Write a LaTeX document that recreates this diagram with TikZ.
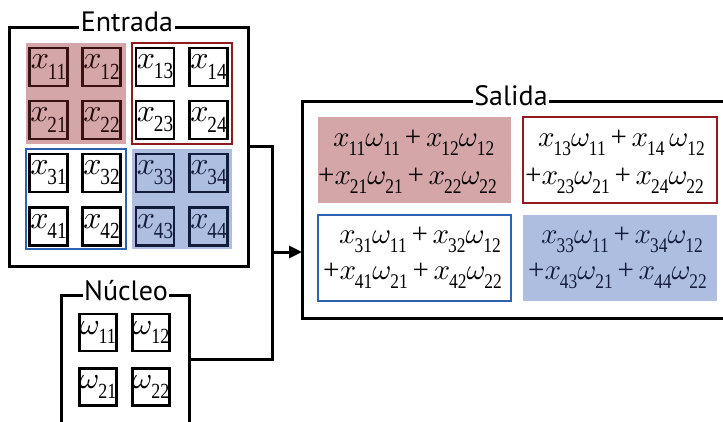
\documentclass[tikz,border=0pt]{standalone}
\usepackage{fontspec}
\setmainfont{Liberation Serif}
\newfontfamily\titlefont{PT Sans}
\usetikzlibrary{arrows.meta}
\definecolor{redfill}{HTML}{D4A6A8}
\definecolor{bluefill}{HTML}{AEBEE0}
\definecolor{redline}{HTML}{8E1B1E}
\definecolor{blueline}{HTML}{2D62B0}
\definecolor{darkred}{HTML}{3A1212}
\definecolor{darkblue}{HTML}{141C3C}
\def\msc{3.2}
\newcommand{\mglyph}[1]{\scalebox{\msc}{\fontsize{10}{12}\selectfont$#1$}}
\newcommand{\subnum}[1]{\kern-0.04em\raisebox{-0.32em}{\scalebox{0.6}[0.72]{#1}}}
\newcommand{\vx}[1]{\mglyph{x}\subnum{#1}}
\newcommand{\vw}[1]{\mglyph{\omega}\subnum{#1}}
\newcommand{\pl}{\,+\,}
\tikzset{
  bigbox/.style={draw, line width=3pt, inner sep=0, outer sep=0},
  boxtitle/.style={fill=white, inner sep=1.5pt, font=\titlefont\fontsize{28}{30}\selectfont},
  cell/.style={draw, line width=2.5pt, minimum size=38pt, inner sep=0, font=\fontsize{32}{34}\selectfont\def\msc{3.2}},
  wcell/.style={cell, minimum size=37pt, font=\fontsize{30}{32}\selectfont\def\msc{3.0}},
  quad/.style={inner sep=0, outer sep=0, minimum width=#1},
  sumtext/.style={anchor=west, inner sep=0, font=\fontsize{29}{31}\selectfont\def\msc{2.9}},
  conn/.style={line width=3pt},
}
\begin{document}
\begin{tikzpicture}[x=1pt, y=-1pt]
\useasboundingbox (0,0) rectangle (723,421);
% Entrada
\node[bigbox, minimum width=239pt, minimum height=239pt] (entrada) at (128.5,146.5) {};
\node[boxtitle] (tentrada) at (127,22) {Entrada};
\node[quad=100pt, minimum height=101pt, fill=redfill] (qa) at (76,93.5) {};
\node[quad=100pt, minimum height=101pt, draw=redline, line width=2pt] (qb) at (182,93.5) {};
\node[quad=100pt, minimum height=100pt, draw=blueline, line width=2pt] (qc) at (76,199) {};
\node[quad=100pt, minimum height=100pt, fill=bluefill] (qd) at (182,199) {};
\node[cell, draw=darkred, text=darkred!60!black] (x11) at (48.5,67) {\vx{11}};
\node[cell, draw=darkred, text=darkred!60!black] (x12) at (101.5,67) {\vx{12}};
\node[cell] (x13) at (155,67) {\vx{13}};
\node[cell] (x14) at (208.5,67) {\vx{14}};
\node[cell, draw=darkred, text=darkred!60!black] (x21) at (48.5,120) {\vx{21}};
\node[cell, draw=darkred, text=darkred!60!black] (x22) at (101.5,120) {\vx{22}};
\node[cell] (x23) at (155,120) {\vx{23}};
\node[cell] (x24) at (208.5,120) {\vx{24}};
\node[cell] (x31) at (48.5,173) {\vx{31}};
\node[cell] (x32) at (101.5,173) {\vx{32}};
\node[cell, draw=darkblue, text=darkblue] (x33) at (155,173) {\vx{33}};
\node[cell, draw=darkblue, text=darkblue] (x34) at (208.5,173) {\vx{34}};
\node[cell] (x41) at (48.5,226.5) {\vx{41}};
\node[cell] (x42) at (101.5,226.5) {\vx{42}};
\node[cell, draw=darkblue, text=darkblue] (x43) at (155,226.5) {\vx{43}};
\node[cell, draw=darkblue, text=darkblue] (x44) at (208.5,226.5) {\vx{44}};
% Nucleo
\node[bigbox, minimum width=128pt, minimum height=128pt] (nucleo) at (125,359) {};
\node[boxtitle] (tnucleo) at (126,291) {Núcleo};
\node[wcell] (w11) at (98,332.5) {\vw{11}};
\node[wcell] (w12) at (151,332.5) {\vw{12}};
\node[wcell] (w21) at (98,387) {\vw{21}};
\node[wcell] (w22) at (151,387) {\vw{22}};
% Salida
\node[bigbox, minimum width=443pt, minimum height=217pt] (salida) at (523.5,209.5) {};
\node[boxtitle] (tsalida) at (511,96) {Salida};
\node[quad=193pt, minimum height=86pt, fill=redfill] (sa) at (414.5,160) {};
\node[quad=194pt, minimum height=86pt, draw=redline, line width=2pt] (sb) at (620,160) {};
\node[quad=193pt, minimum height=86pt, draw=blueline, line width=2pt] (sc) at (414.5,258) {};
\node[quad=194pt, minimum height=86pt, fill=bluefill] (sd) at (620,258) {};
\node[sumtext] (sa1) at (333,143) {\vx{11}\vw{11}\pl\vx{12}\vw{12}};
\node[sumtext] (sa2) at (318,181) {+\vx{21}\vw{21}\pl\vx{22}\vw{22}};
\node[sumtext] (sb1) at (538,143) {\vx{13}\vw{11}\pl\vx{14}\,\vw{12}};
\node[sumtext] (sb2) at (525,181) {+\vx{23}\vw{21}\pl\vx{24}\vw{22}};
\node[sumtext] (sc1) at (339,240) {\vx{31}\vw{11}\pl\vx{32}\vw{12}};
\node[sumtext] (sc2) at (323,276) {+\vx{41}\vw{21}\pl\vx{42}\vw{22}};
\node[sumtext, text=darkblue] (sd1) at (541,240) {\vx{33}\vw{11}\pl\vx{34}\vw{12}};
\node[sumtext, text=darkblue] (sd2) at (528,276) {+\vx{43}\vw{21}\pl\vx{44}\vw{22}};
% connectors
\coordinate (jtop) at (272,146.5);
\coordinate (jmid) at (272,252);
\coordinate (jbot) at (272,359);
\draw[conn, line join=miter] (entrada.east) -- (jtop) -- (jbot) -- (nucleo.east);
\draw[conn, -{Triangle[length=13pt,width=12pt]}] (jmid) -- (jmid -| salida.west);
\end{tikzpicture}
\end{document}
